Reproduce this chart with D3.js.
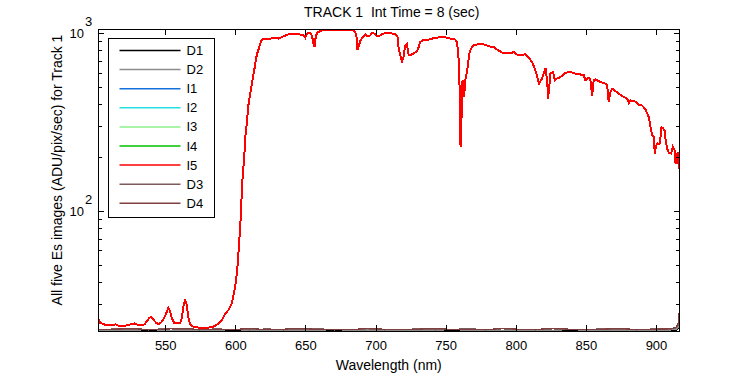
<!DOCTYPE html>
<style>
body {
  margin: 0;
  background: #fff;
  font-family: 'Liberation Sans', Arial, sans-serif;
}
text {
  white-space: pre;
}
</style>
<svg width="750" height="375"></svg>
<script src="https://d3js.org/d3.v7.min.js"></script>
<script>
// wavelength grid (nm) and the Es spectrum
var specWl = [501.9, 503.1, 505.5, 507.9, 511.5, 514.4, 516.2, 518.6, 522.2, 525.8, 527.6, 529.8, 532.9, 534.8, 536.5,
  538.1, 539.5, 541.2, 543.1, 544.8, 546.7, 548.8, 550.75, 551.9, 553.1, 554.3, 556.0, 557.9, 560.2, 561.5,
  562.6, 563.8, 565.0, 566.0, 567.4, 569.7, 574.5, 581.7, 585.2, 587.6, 590.0, 592.4, 594.7, 597.1, 598.3,
  599.5, 600.7, 601.4, 602.4, 603.3, 604.0, 604.7, 605.9, 606.9, 607.9, 608.8, 609.7, 610.9, 612.1, 613.3,
  614.3, 615.2, 616.4, 618.1, 619.7, 623.3, 626.8, 630.4, 634.0, 637.5, 641.1, 644.7, 648.3, 649.5, 650.7,
  653.0, 654.2, 655.4, 656.1, 656.8, 657.8, 661.4, 665.0, 669.7, 674.4, 679.2, 683.9, 685.7, 686.4, 686.8,
  687.8, 688.7, 689.9, 691.1, 692.3, 693.9, 695.9, 697.1, 698.7, 699.9, 701.8, 704.2, 706.6, 710.1, 713.7,
  715.3, 716.1, 717.3, 718.5, 719.6, 720.8, 722.1, 722.8, 723.9, 726.8, 729.2, 730.3, 731.5, 733.5, 736.3,
  739.9, 743.5, 748.2, 753.0, 756.5, 757.7, 758.5, 759.4, 759.9, 760.3, 760.8, 761.3, 761.7, 762.2, 762.7,
  763.2, 763.9, 764.9, 765.6, 766.5, 767.7, 769.6, 773.2, 776.7, 780.3, 783.9, 786.3, 789.9, 793.4, 796.3,
  798.1, 800.6, 802.9, 806.5, 808.8, 811.3, 813.6, 815.3, 816.3, 818.4, 819.6, 820.8, 822.0, 822.7, 823.4,
  824.3, 826.3, 827.4, 829.1, 831.5, 835.0, 838.6, 842.2, 845.8, 848.1, 849.3, 850.5, 851.7, 852.9, 854.1,
  855.2, 856.5, 860.0, 863.6, 864.8, 865.9, 867.2, 868.4, 870.7, 873.1, 876.7, 879.1, 880.2, 881.5, 883.8,
  885.7, 887.4, 889.8, 892.2, 893.4, 894.5, 895.7, 896.9, 898.1, 898.8, 899.8, 900.9, 902.1, 902.9, 903.6,
  904.8, 905.7, 906.4, 907.6, 908.8, 910.5, 911.6, 912.9, 913.6, 914.3, 915.2, 915.9, 916.4];

var specVal = [25.1, 23.7, 23.3, 22.9, 22.9, 23.2, 22.8, 22.6, 22.9, 23.3, 23.5, 23.1, 22.9, 23.2, 24.1,
  25.1, 25.6, 24.7, 23.7, 23.3, 23.8, 25.1, 27.3, 28.7, 27.5, 25.1, 23.7, 23.5, 23.6, 25.1,
  29.1, 32.1, 29.8, 25.6, 23.2, 22.5, 22.2, 22.3, 22.7, 23.5, 24.5, 26.7, 27.9, 30.4, 33.9,
  37.7, 44.9, 51.6, 67.5, 87.5, 115.6, 150, 198.6, 268.5, 318.6, 387.5, 431.5, 494.5, 558.6, 635.8,
  714.4, 772.5, 823.8, 917, 933, 929, 949.5, 937, 965.7, 991, 1000, 991, 978, 949.5, 1000,
  1008, 978, 878.6, 840.7, 937, 1008, 1043.6, 1053, 1053, 1053, 1053, 1043.6, 1000, 917, 805.8,
  859.6, 908.7, 937, 965.7, 991, 965.7, 978, 1008, 1000, 978, 965.7, 991, 1008, 1008, 991,
  957, 823.8, 755, 701, 738.8, 859.6, 878.6, 772.5, 755, 772.5, 795.6, 834.6, 897, 917, 917,
  937, 949.5, 957, 937, 925, 897, 788.5, 622.4, 274.2, 230.6, 286.4, 501.2, 547, 449.8, 440.3,
  490.7, 570, 608.4, 678.6, 772.5, 823.8, 859.6, 871, 871, 848.8, 840.7, 813, 781.9, 781.9, 772.5,
  788.5, 762.4, 755, 765.3, 732.7, 692, 622.4, 558.6, 523.6, 558.6, 595.8, 641, 547, 431.5, 490.7,
  595.8, 608.4, 547, 558.6, 570, 601.5, 608.4, 595.8, 588.6, 583.6, 547, 558.6, 566, 547, 444.6,
  547, 552.5, 535.2, 523.6, 512.6, 412.9, 469.9, 490.7, 475.9, 460.1, 440.3, 431.5, 407.4, 421.6, 416.6,
  412.9, 395.4, 394, 374.2, 355.3, 339.9, 298.6, 268.5, 262.5, 211.9, 235.8, 241.2, 238.8, 262.5, 298.6,
  292.4, 286.4, 257.2, 226, 213.4, 211.9, 230.6, 220.8, 186.2, 202.8, 216.3, 174.6, 178.2];

// dark frames sit on the floor of the plot
var darkWl = [502, 514, 526, 538, 550, 562, 574, 586, 598, 610, 622, 634, 646, 658, 670, 682, 694, 706, 718,
  730, 742, 754, 766, 778, 790, 802, 814, 826, 838, 850, 862, 874, 886, 898, 910, 914, 915.5, 916.4];
var d1Val = [21.35, 21.4, 21.35, 21.4, 21.35, 21.35, 21.4, 21.35, 21.4, 21.35, 21.4, 21.35, 21.35, 21.4, 21.35, 21.4, 21.35, 21.4, 21.35,
  21.35, 21.4, 21.35, 21.4, 21.35, 21.35, 21.4, 21.35, 21.4, 21.35, 21.35, 21.4, 21.35, 21.4, 21.35, 21.4, 21.5, 22.0, 25.0];
var d2Val = [21.5, 21.6, 21.5, 21.7, 21.5, 21.6, 21.5, 21.5, 21.7, 21.5, 21.6, 21.5, 21.6, 21.5, 21.7, 21.5, 21.6, 21.5, 21.5,
  21.6, 21.5, 21.7, 21.5, 21.6, 21.5, 21.5, 21.6, 21.5, 21.7, 21.5, 21.6, 21.5, 21.5, 21.6, 21.6, 21.8, 22.4, 27.0];
var d3Val = [21.6, 21.9, 21.7, 21.6, 22.0, 21.7, 21.6, 21.9, 21.7, 21.6, 21.9, 21.6, 21.7, 22.0, 21.6, 21.7, 21.9, 21.6, 21.7,
  21.9, 21.6, 21.7, 22.0, 21.6, 21.9, 21.7, 21.6, 21.9, 21.7, 21.6, 22.0, 21.7, 21.6, 21.9, 21.8, 22.2, 23.0, 28.0];
var d4Val = [21.7, 21.8, 22.0, 21.7, 21.8, 22.1, 21.7, 21.8, 21.7, 22.0, 21.7, 21.8, 22.1, 21.7, 21.8, 21.7, 22.0, 21.8, 21.7,
  21.8, 22.1, 21.7, 21.8, 21.7, 22.0, 21.8, 21.7, 22.1, 21.8, 21.7, 21.8, 22.0, 21.7, 21.8, 21.9, 22.4, 23.5, 28.5];

var seriesNames = ["D1", "D2", "I1", "I2", "I3", "I4", "I5", "D3", "D4"];
var seriesColors = ["#000000", "#8c8c8c", "#1470dc", "#22e0e0", "#8cf08c", "#00c000", "#ff0000", "#7f5a5a", "#804040"];

var xTicks = [550, 600, 650, 700, 750, 800, 850, 900];
var yMajor = [100, 1000];
var yMinor = [30, 40, 50, 60, 70, 80, 90, 200, 300, 400, 500, 600, 700, 800, 900];

var svg = d3.select("svg"),
    margin = {top: 29, right: 70.5, bottom: 44, left: 98},
    width = +svg.attr("width") - margin.left - margin.right,
    height = +svg.attr("height") - margin.top - margin.bottom,
    g = svg.append("g").attr("transform", "translate(" + margin.left + "," + margin.top + ")");

var x = d3.scaleLinear().domain([501.7, 916.4]).range([0, width]);
var y = d3.scaleLog().domain([21.3, 1061]).range([height, 0]);

g.append("clipPath").attr("id", "clip")
  .append("rect").attr("width", width).attr("height", height);

// build the series table
var series = seriesNames.map(function(name, i) {
  var wl = name.charAt(0) == "I" ? specWl : darkWl;
  var vals = name.charAt(0) == "I" ? specVal : [d1Val, d2Val, d3Val, d4Val][["D1", "D2", "D3", "D4"].indexOf(name)];
  return {name: name, color: seriesColors[i], values: wl.map(function(w, j) { return [w, vals[j]]; })};
});

var line = d3.line()
  .x(function(d) { return x(d[0]); })
  .y(function(d) { return y(d[1]); });

// darks first, spectra on top, I5 last
var drawOrder = ["D1", "D2", "D3", "D4", "I1", "I2", "I3", "I4", "I5"];
g.append("g").attr("clip-path", "url(#clip)")
  .selectAll("path")
  .data(drawOrder.map(function(n) { return series[seriesNames.indexOf(n)]; }))
  .enter().append("path")
    .attr("fill", "none")
    .attr("stroke", function(d) { return d.color; })
    .attr("stroke-width", function(d) { return d.name.charAt(0) == "I" ? 2 : 1.2; })
    .attr("shape-rendering", "crispEdges")
    .attr("d", function(d) { return line(d.values); });

// frame
g.append("rect")
  .attr("width", width)
  .attr("height", height)
  .attr("fill", "none")
  .attr("stroke", "#000")
  .attr("stroke-width", 1)
  .attr("shape-rendering", "crispEdges");

// inward ticks on all four sides
var axes = g.append("g").attr("stroke", "#000").attr("shape-rendering", "crispEdges");
xTicks.forEach(function(t) {
  axes.append("line").attr("x1", x(t)).attr("x2", x(t)).attr("y1", height).attr("y2", height - 6);
  axes.append("line").attr("x1", x(t)).attr("x2", x(t)).attr("y1", 0).attr("y2", 6);
});
yMajor.forEach(function(t) {
  axes.append("line").attr("x1", 0).attr("x2", 6).attr("y1", y(t)).attr("y2", y(t));
  axes.append("line").attr("x1", width).attr("x2", width - 6).attr("y1", y(t)).attr("y2", y(t));
});
yMinor.forEach(function(t) {
  axes.append("line").attr("x1", 0).attr("x2", 4).attr("y1", y(t)).attr("y2", y(t));
  axes.append("line").attr("x1", width).attr("x2", width - 4).attr("y1", y(t)).attr("y2", y(t));
});

g.append("g")
  .attr("font-size", 13)
  .attr("text-anchor", "middle")
  .selectAll("text")
  .data(xTicks)
  .enter().append("text")
    .attr("x", function(d) { return x(d); })
    .attr("y", height + 19)
    .text(function(d) { return d; });

var ylab = g.append("g").attr("font-size", 13)
  .selectAll("g")
  .data(yMajor)
  .enter().append("g")
    .attr("transform", function(d) { return "translate(0," + y(d) + ")"; });
ylab.append("text")
  .attr("x", -14)
  .attr("y", 4.5)
  .attr("text-anchor", "end")
  .text("10");
ylab.append("text")
  .attr("x", -13)
  .attr("y", -8)
  .text(function(d) { return Math.round(Math.log10(d)); });

svg.append("text")
  .attr("x", margin.left + width / 2 + 3)
  .attr("y", 17)
  .attr("text-anchor", "middle")
  .attr("font-size", 14)
  .text("TRACK 1  Int Time = 8 (sec)");

svg.append("text")
  .attr("x", margin.left + width / 2)
  .attr("y", 370)
  .attr("text-anchor", "middle")
  .attr("font-size", 14)
  .text("Wavelength (nm)");

svg.append("text")
  .attr("transform", "translate(62,170) rotate(-90)")
  .attr("text-anchor", "middle")
  .attr("font-size", 14)
  .text("All five Es images (ADU/pix/sec) for Track 1");

// legend
var legend = g.append("g").attr("transform", "translate(10.5,9.5)");
legend.append("rect")
  .attr("width", 106)
  .attr("height", 178.5)
  .attr("fill", "#fff")
  .attr("stroke", "#000")
  .attr("shape-rendering", "crispEdges");
var item = legend.selectAll("g")
  .data(series)
  .enter().append("g")
    .attr("transform", function(d, i) { return "translate(0," + (12 + i * 19.1) + ")"; });
item.append("line")
  .attr("x1", 11)
  .attr("x2", 72)
  .attr("stroke", function(d) { return d.color; })
  .attr("stroke-width", 1.5);
item.append("text")
  .attr("x", 78)
  .attr("dy", "0.35em")
  .attr("font-size", 13)
  .text(function(d) { return d.name; });
</script>
